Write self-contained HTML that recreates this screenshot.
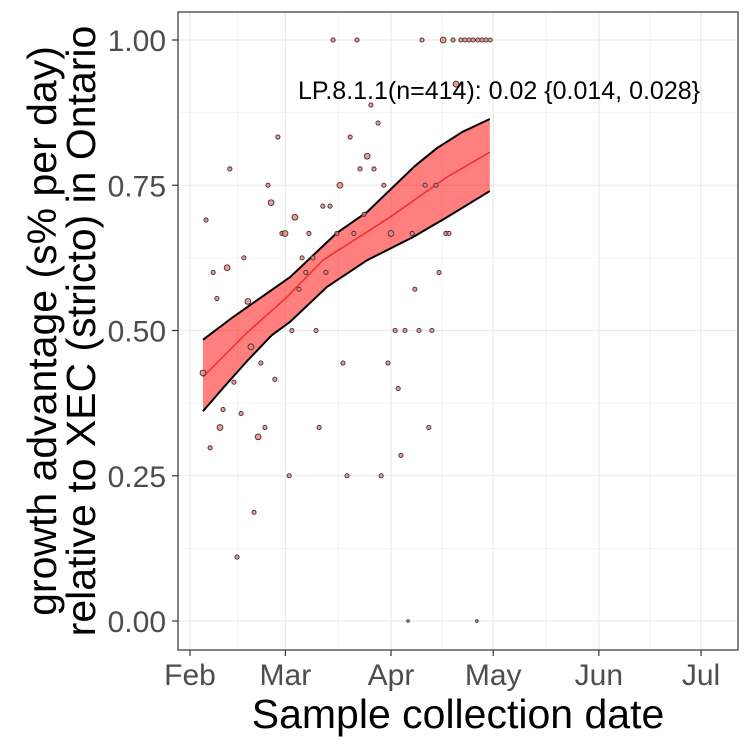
<!DOCTYPE html>
<html><head><meta charset="utf-8"><style>
body{margin:0;background:#fff}
svg{display:block;font-family:"Liberation Sans",Arial,sans-serif}
</style></head><body>
<svg id="chart" width="750" height="750"></svg>
<script>
const xTickDays=[0,28,59,89,120,150];
const xTickLabels=["Feb","Mar","Apr","May","Jun","Jul"];
const yTicks=[0,0.25,0.5,0.75,1];
const yTickLabels=["0.00","0.25","0.50","0.75","1.00"];
const pointDays=[42.0,49.0,68.1,74.3,77.2,79.5,80.7,81.9,83.1,84.5,85.7,86.9,88.1,78.1,53.1,55.2,25.8,47.0,52.0,11.7,49.9,54.0,22.9,44.0,56.9,69.0,72.2,23.8,39.0,41.1,4.7,30.8,51.1,27.0,27.9,34.9,43.1,48.1,59.0,65.2,75.1,76.0,15.8,32.9,36.1,6.8,10.9,34.0,39.9,73.1,7.9,17.0,32.0,66.0,29.9,37.0,60.2,63.1,67.2,71.0,17.9,3.8,20.8,44.9,58.1,12.9,24.9,61.1,9.7,15.0,8.8,22.0,37.9,70.1,20.0,5.9,61.9,29.1,46.1,56.1,18.8,13.8,64.0,84.2];
const pointValues=[1,1,1,1,1,1,1,1,1,1,1,1,1,0.924,0.888,0.857,0.833,0.833,0.8,0.778,0.778,0.778,0.75,0.75,0.75,0.75,0.75,0.72,0.714,0.714,0.69,0.695,0.70,0.667,0.667,0.667,0.667,0.667,0.667,0.667,0.667,0.667,0.625,0.625,0.625,0.6,0.608,0.6,0.6,0.6,0.555,0.55,0.571,0.571,0.5,0.5,0.5,0.5,0.5,0.5,0.472,0.427,0.444,0.444,0.444,0.411,0.416,0.4,0.364,0.357,0.333,0.333,0.333,0.333,0.317,0.298,0.285,0.25,0.25,0.25,0.187,0.11,0,0];
const pointSizes=[2,2,2,3,2,2,2,2,2,2,2,2,2,3,2,2,2,2,3,2,2,2,2,3,2,2,2,3,2,2,2,3,2,2,3,2,2,2,3,2,2,2,2,2,2,2,3,2,2,2,2,3,2,2,2,2,2,2,2,2,3,3,2,2,2,2,2,2,2,2,3,2,2,2,3,2,2,2,2,2,2,2,1,1];
const fitDays=[3.8,16.7,28.2,39,58.7,75.4,88];
const fitValues=[0.420,0.496,0.556,0.621,0.695,0.764,0.807];
const upperDays=[3.8,12.6,29.4,43.1,52,59.6,66,72.5,80,88];
const upperValues=[0.484,0.523,0.592,0.668,0.704,0.747,0.783,0.814,0.842,0.864];
const lowerDays=[3.8,10,17,24,29.4,40.2,52,65.5,75.4,88];
const lowerValues=[0.361,0.403,0.449,0.492,0.515,0.575,0.621,0.661,0.695,0.740];

const NS="http://www.w3.org/2000/svg";
const svg=document.getElementById('chart');
const X=d=>190+d*3.407;
const Y=v=>621-v*581;
function mk(tag,attrs,parent){const e=document.createElementNS(NS,tag);for(const k in attrs)e.setAttribute(k,attrs[k]);(parent||svg).appendChild(e);return e;}

const panel=mk('rect',{x:178,y:12,width:560,height:638,fill:'#fff'});


const grid=mk('g',{});


for(let i=0;i<yTicks.length;i++){
  mk('line',{x1:178,x2:738,y1:Y(yTicks[i]),y2:Y(yTicks[i]),stroke:'#ebebeb','stroke-width':1.3},grid);
  if(i<yTicks.length-1){const m=(yTicks[i]+yTicks[i+1])/2;mk('line',{x1:178,x2:738,y1:Y(m),y2:Y(m),stroke:'#ebebeb','stroke-width':0.6},grid);}
}
for(let i=0;i<xTickDays.length;i++){
  mk('line',{x1:X(xTickDays[i]),x2:X(xTickDays[i]),y1:12,y2:650,stroke:'#ebebeb','stroke-width':1.3},grid);
  if(i<xTickDays.length-1){const m=(xTickDays[i]+xTickDays[i+1])/2;mk('line',{x1:X(m),x2:X(m),y1:12,y2:650,stroke:'#ebebeb','stroke-width':0.6},grid);}
}
let bp=upperDays.map((d,i)=>X(d)+','+Y(upperValues[i]));
let lp=lowerDays.map((d,i)=>X(d)+','+Y(lowerValues[i])).reverse();
const band=mk('polygon',{points:bp.concat(lp).join(' '),fill:'#ff0000','fill-opacity':0.5,stroke:'none'});


const up=mk('polyline',{points:bp.join(' '),fill:'none',stroke:'#000','stroke-width':2,'stroke-linejoin':'round'});


const lo=mk('polyline',{points:lowerDays.map((d,i)=>X(d)+','+Y(lowerValues[i])).join(' '),fill:'none',stroke:'#000','stroke-width':2,'stroke-linejoin':'round'});


const fit=mk('polyline',{points:fitDays.map((d,i)=>X(d)+','+Y(fitValues[i])).join(' '),fill:'none',stroke:'#f03030','stroke-width':1.6});


const pg=mk('g',{});


const rs=[0,1.3,2.1,2.9];
for(let i=0;i<pointDays.length;i++){
  const c=mk('circle',{cx:X(pointDays[i]),cy:Y(pointValues[i]),r:rs[pointSizes[i]],fill:'#f08080','fill-opacity':0.8,stroke:'#333','stroke-width':0.9},pg);
  
  
}
const border=mk('rect',{x:178,y:12,width:560,height:638,fill:'none',stroke:'#333','stroke-width':1.2});


const ann=mk('text',{x:298,y:99,'font-size':25,fill:'#000'});
ann.textContent='LP.8.1.1(n=414): 0.02 {0.014, 0.028}';


for(let i=0;i<yTicks.length;i++){
  mk('line',{x1:172,x2:178,y1:Y(yTicks[i]),y2:Y(yTicks[i]),stroke:'#333','stroke-width':1.2});
  const t=mk('text',{x:166,y:Y(yTicks[i])+11,'font-size':30,fill:'#4d4d4d','text-anchor':'end'});
  t.textContent=yTickLabels[i];
  
  
}
for(let i=0;i<xTickDays.length;i++){
  mk('line',{x1:X(xTickDays[i]),x2:X(xTickDays[i]),y1:650,y2:656,stroke:'#333','stroke-width':1.2});
  const t=mk('text',{x:X(xTickDays[i]),y:685,'font-size':30,fill:'#4d4d4d','text-anchor':'middle'});
  t.textContent=xTickLabels[i];
  
  
}
</script>
<svg width="750" height="750" style="position:absolute;left:0;top:0;font-family:'Liberation Sans',Arial,sans-serif">
<text x="458" y="728" font-size="41" text-anchor="middle">Sample collection date</text>
<g transform="translate(0,331) rotate(-90)">
<text x="0" y="56" font-size="41" text-anchor="middle">growth advantage (s% per day)</text>
<text x="0" y="95" font-size="41" text-anchor="middle">relative to XEC (stricto) in Ontario</text>
</g>
</svg>
</body></html>
